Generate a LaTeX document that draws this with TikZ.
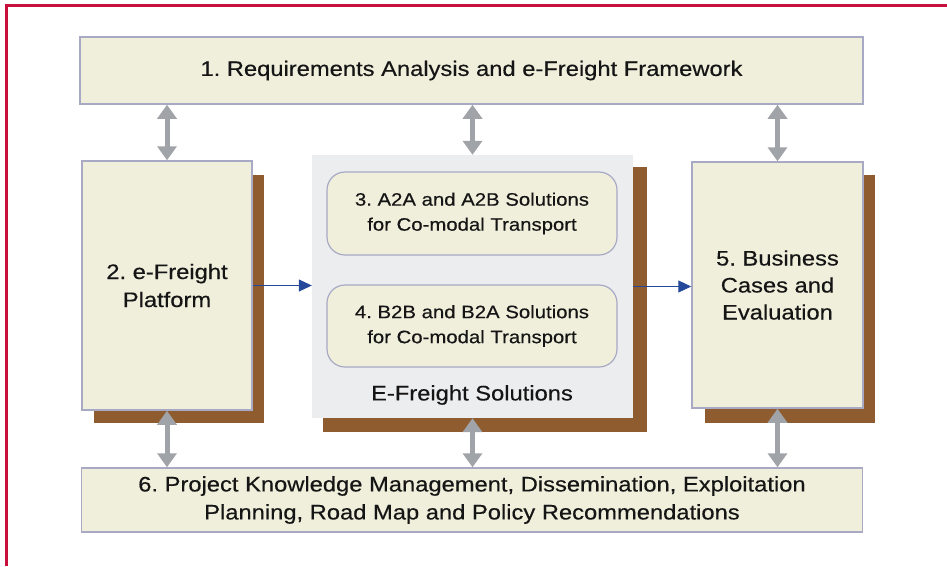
\documentclass[tikz,border=0pt]{standalone}
\usepackage{fontspec}
\setmainfont{Liberation Sans}[FakeStretch=1.13, FakeBold=0.4]
\frenchspacing
\usetikzlibrary{arrows.meta}
\definecolor{boxfill}{HTML}{EFEFDC}
\definecolor{boxline}{HTML}{A8A9C4}
\definecolor{solfill}{HTML}{ECEDEE}
\definecolor{shadowbrown}{HTML}{8E5C2E}
\definecolor{framered}{HTML}{C8103C}
\definecolor{arrgray}{HTML}{A0A3A8}
\definecolor{arrblue}{HTML}{25499A}
\definecolor{txt}{HTML}{151515}
\tikzset{
  box/.style={draw=boxline, line width=1.5pt, fill=boxfill, text=txt, align=center, inner sep=0pt},
  solbox/.style={fill=solfill, draw=none, inner sep=0pt},
  roundbox/.style={box, rounded corners=18pt, line width=1.2pt},
  shadowfill/.style={fill=shadowbrown},
  garrow/.style={draw=arrgray, line width=5pt, {Triangle[width=19pt,length=14pt]}-{Triangle[width=19pt,length=14pt]}},
  barrow/.style={draw=arrblue, line width=1pt, -{Triangle[width=12pt,length=13pt]}},
  bigtxt/.style={font=\fontsize{21}{28}\selectfont\frenchspacing},
  midtxt/.style={font=\fontsize{21}{27}\selectfont\frenchspacing},
  smalltxt/.style={font=\fontsize{18}{25}\selectfont\frenchspacing},
}
\begin{document}
\begin{tikzpicture}[x=1pt,y=-1pt]
\useasboundingbox (0,0) rectangle (947,566);
\fill[white] (0,0) rectangle (947,566);
% red frame
\draw[framered, line width=3pt] (6,566) -- (6,5) -- (947,5);

% main boxes
\node[box, bigtxt, minimum width=783pt, minimum height=67pt] (b1) at (471.5,70.5) {1. Requirements Analysis and e-Freight Framework};

\fill[shadowfill] (94,175) rectangle (264,423);
\node[box, bigtxt, minimum width=170pt, minimum height=249pt] (b2) at (167,285.5) {2. e-Freight\\Platform};

\fill[shadowfill] (323,167) rectangle (647,432);
\node[solbox, minimum width=321pt, minimum height=263pt] (sol) at (472.5,286.5) {};
\node[roundbox, smalltxt, minimum width=290pt, minimum height=83pt] (b3) at (472,213.5) {3. A2A and A2B Solutions\\for Co-modal Transport};
\node[roundbox, smalltxt, minimum width=290pt, minimum height=82pt] (b4) at (472,326) {4. B2B and B2A Solutions\\for Co-modal Transport};
\node[text=txt, bigtxt, anchor=center] (soltitle) at (472,395) {E-Freight Solutions};

\fill[shadowfill] (705,175) rectangle (875,423);
\node[box, midtxt, minimum width=171pt, minimum height=246pt] (b5) at (777.5,285) {5. Business\\Cases and\\Evaluation};

\node[box, bigtxt, minimum width=781pt, minimum height=64pt] (b6) at (472,500) {6. Project Knowledge Management, Dissemination, Exploitation\\Planning, Road Map and Policy Recommendations};

% gray double arrows
\draw[garrow] (b1.south -| b2.north) -- (b2.north);
\draw[garrow] (b1.south -| sol.north) -- (sol.north);
\draw[garrow] (b1.south -| b5.north) -- (b5.north);
\draw[garrow] (b2.south) -- (b2.south |- b6.north);
\draw[garrow] (sol.south) -- (sol.south |- b6.north);
\draw[garrow] (b5.south) -- (b5.south |- b6.north);

% blue arrows
\draw[barrow] (b2.east) -- (b2.east -| sol.west);
\draw[barrow] (sol.east) -- (sol.east -| b5.west);
\end{tikzpicture}
\end{document}
